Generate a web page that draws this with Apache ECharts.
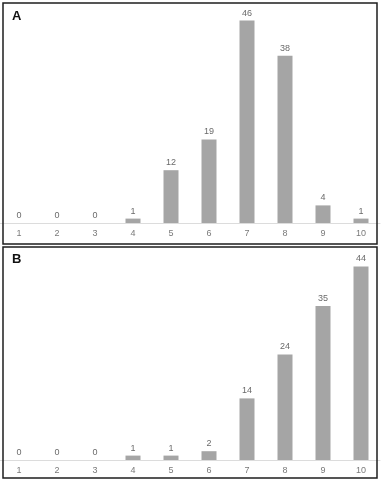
<!DOCTYPE html>
<html><head><meta charset="utf-8">
<script src="https://cdn.jsdelivr.net/npm/echarts@6/dist/echarts.min.js"></script>
<style>html,body{margin:0;padding:0;background:#fff}#c{width:383px;height:481px}</style>
</head><body><div id="c"></div>
<script>
const categories = ['1','2','3','4','5','6','7','8','9','10'];
const valuesA = [0,0,0,1,12,19,46,38,4,1];
const valuesB = [0,0,0,1,1,2,14,24,35,44];
const panelLabels = ['A','B'];

const chart = echarts.init(document.getElementById('c'), null, {renderer:'canvas'});
const barColor = '#a5a5a5';
function xAxis(i){
  return {type:'category', gridIndex:i, data:categories,
    axisLine:{lineStyle:{color:'#dcdcdc',width:1}}, axisTick:{show:false},
    axisLabel:{color:'#7a7a7a', fontSize:9, fontFamily:'Arial, Liberation Sans', margin:6}};
}
function yAxis(i){
  return {type:'value', gridIndex:i, min:0, max:50, show:false, splitLine:{show:false}};
}
function series(i, data){
  return {type:'bar', xAxisIndex:i, yAxisIndex:i, data:data, barWidth:15,
    itemStyle:{color:barColor},
    label:{show:true, position:'top', distance:3, color:'#6a6a6a', fontSize:9, fontFamily:'Arial, Liberation Sans'}};
}
chart.setOption({
  animation:false,
  title:[
    {text:panelLabels[0], left:12, top:10, padding:0, textStyle:{fontSize:13, fontWeight:'bold', color:'#111', fontFamily:'Arial, Liberation Sans'}},
    {text:panelLabels[1], left:12, top:253, padding:0, textStyle:{fontSize:13, fontWeight:'bold', color:'#111', fontFamily:'Arial, Liberation Sans'}}
  ],
  grid:[
    {left:0, width:380, top:3, height:220},
    {left:0, width:380, top:240, height:220}
  ],
  xAxis:[xAxis(0), xAxis(1)],
  yAxis:[yAxis(0), yAxis(1)],
  series:[series(0, valuesA), series(1, valuesB)],
  graphic:[
    {type:'rect', shape:{x:3, y:3, width:374, height:241}, style:{fill:'none', stroke:'#1e1e1e', lineWidth:1.5}, z:100},
    {type:'rect', shape:{x:3, y:247, width:374, height:231}, style:{fill:'none', stroke:'#1e1e1e', lineWidth:1.5}, z:100}
  ]
});
</script></body></html>
